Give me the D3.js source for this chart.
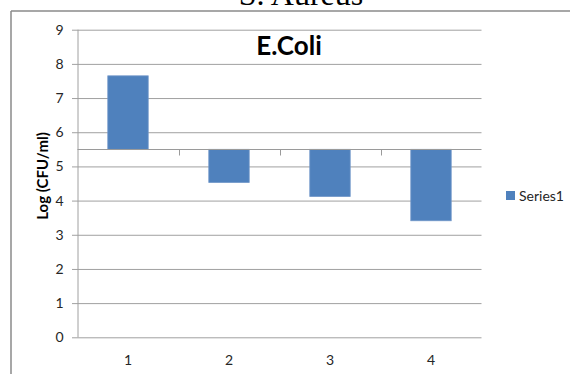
<!DOCTYPE html>
<html>
<head>
<meta charset="utf-8">
<script src="https://cdn.jsdelivr.net/npm/d3@7"></script>
<style>
  html, body { margin: 0; padding: 0; background: #fff; }
  svg { display: block; }
</style>
</head>
<body>
<svg id="chart" width="570" height="374"></svg>
<script>
// Data
const categories = ["1", "2", "3", "4"];
const values = [7.65, 4.53, 4.12, 3.41];
const axisCross = 5.5;            // horizontal axis crosses the value axis here
const yTicks = [0, 1, 2, 3, 4, 5, 6, 7, 8, 9];
const seriesName = "Series1";
const chartTitle = "E.Coli";
const pageTitle = "S. Aureus";
const yAxisTitle = "Log (CFU/ml)";

const svg = d3.select("#chart");
const W = 570, H = 374;
const plot = { left: 77.5, right: 481.5, top: 29.7, bottom: 337.3 };
const font = "Lato, 'Open Sans', sans-serif";
const barColor = "#4f81bd";
const gridColor = "#a0a0a0";
const textColor = "#262626";

const y = d3.scaleLinear().domain([0, 9]).range([plot.bottom, plot.top]);
const x = d3.scaleBand().domain(categories).range([plot.left, plot.right])
  .paddingInner(0.6).paddingOuter(0.3);

// Heading of the surrounding document, mostly above the frame
svg.append("text")
  .attr("x", 301).attr("y", 5)
  .attr("text-anchor", "middle")
  .attr("font-family", "'Liberation Serif', serif")
  .attr("font-size", 32)
  .attr("fill", "#000")
  .text(pageTitle);

// Chart frame
svg.append("rect").attr("x", 11).attr("y", 11).attr("width", W).attr("height", H)
  .attr("fill", "#fff");
svg.append("line").attr("x1", 11).attr("x2", W).attr("y1", 11).attr("y2", 11)
  .attr("stroke", "#8a8a8a").attr("stroke-width", 1.5);
svg.append("line").attr("x1", 11).attr("x2", 11).attr("y1", 11).attr("y2", H)
  .attr("stroke", "#8a8a8a").attr("stroke-width", 1.5);

// Horizontal gridlines with value axis ticks
const yAxis = d3.axisLeft(y).tickValues(yTicks).tickSize(-(plot.right - plot.left))
  .tickPadding(14).tickFormat(d3.format("d"));
const gy = svg.append("g").attr("transform", `translate(${plot.left},0)`).call(yAxis);
gy.select(".domain").attr("stroke", gridColor).attr("d", `M0.5,${plot.top}V${plot.bottom}`);
gy.selectAll(".tick line").attr("stroke", gridColor).attr("x1", -5.5);
gy.selectAll(".tick text").attr("font-family", font).attr("font-size", 14)
  .attr("fill", textColor);

// Bars, floating from the axis crossing value
svg.append("g").selectAll("rect").data(values).join("rect")
  .attr("x", (d, i) => x(categories[i]))
  .attr("width", x.bandwidth())
  .attr("y", d => y(Math.max(d, axisCross)))
  .attr("height", d => Math.abs(y(d) - y(axisCross)))
  .attr("fill", barColor)
  .attr("stroke", "#7096c8").attr("stroke-width", 0.8);

// Category axis line at the crossing value, ticks between categories
const step = x.step();
const gx = svg.append("g");
gx.append("line").attr("x1", plot.left).attr("x2", plot.right)
  .attr("y1", Math.round(y(axisCross)) + 0.5).attr("y2", Math.round(y(axisCross)) + 0.5)
  .attr("stroke", "#9a9a9a");
gx.selectAll("line.tk").data(d3.range(1, categories.length)).join("line")
  .attr("class", "tk")
  .attr("x1", i => Math.round(plot.left + i * step) + 0.5)
  .attr("x2", i => Math.round(plot.left + i * step) + 0.5)
  .attr("y1", Math.round(y(axisCross)) + 0.5)
  .attr("y2", Math.round(y(axisCross)) + 6.5)
  .attr("stroke", "#9a9a9a");

// Category labels sit below the plot
svg.append("g").selectAll("text").data(categories).join("text")
  .attr("x", d => x(d) + x.bandwidth() / 2)
  .attr("y", 365)
  .attr("text-anchor", "middle")
  .attr("font-family", font).attr("font-size", 14)
  .attr("fill", textColor)
  .text(d => d);

// Chart title
svg.append("text")
  .attr("x", 289).attr("y", 55)
  .attr("text-anchor", "middle")
  .attr("font-family", font).attr("font-weight", "bold").attr("font-size", 26)
  .attr("fill", "#000")
  .text(chartTitle);

// Value axis title
svg.append("text")
  .attr("transform", "translate(48,176) rotate(-90)")
  .attr("text-anchor", "middle")
  .attr("font-family", font).attr("font-weight", "bold").attr("font-size", 15)
  .attr("fill", "#000")
  .text(yAxisTitle);

// Legend
const lg = svg.append("g").attr("transform", "translate(506,191)");
lg.append("rect").attr("width", 9).attr("height", 9).attr("fill", barColor);
lg.append("text").attr("x", 13).attr("y", 9.5)
  .attr("font-family", font).attr("font-size", 14).attr("fill", textColor)
  .text(seriesName);
</script>
</body>
</html>
